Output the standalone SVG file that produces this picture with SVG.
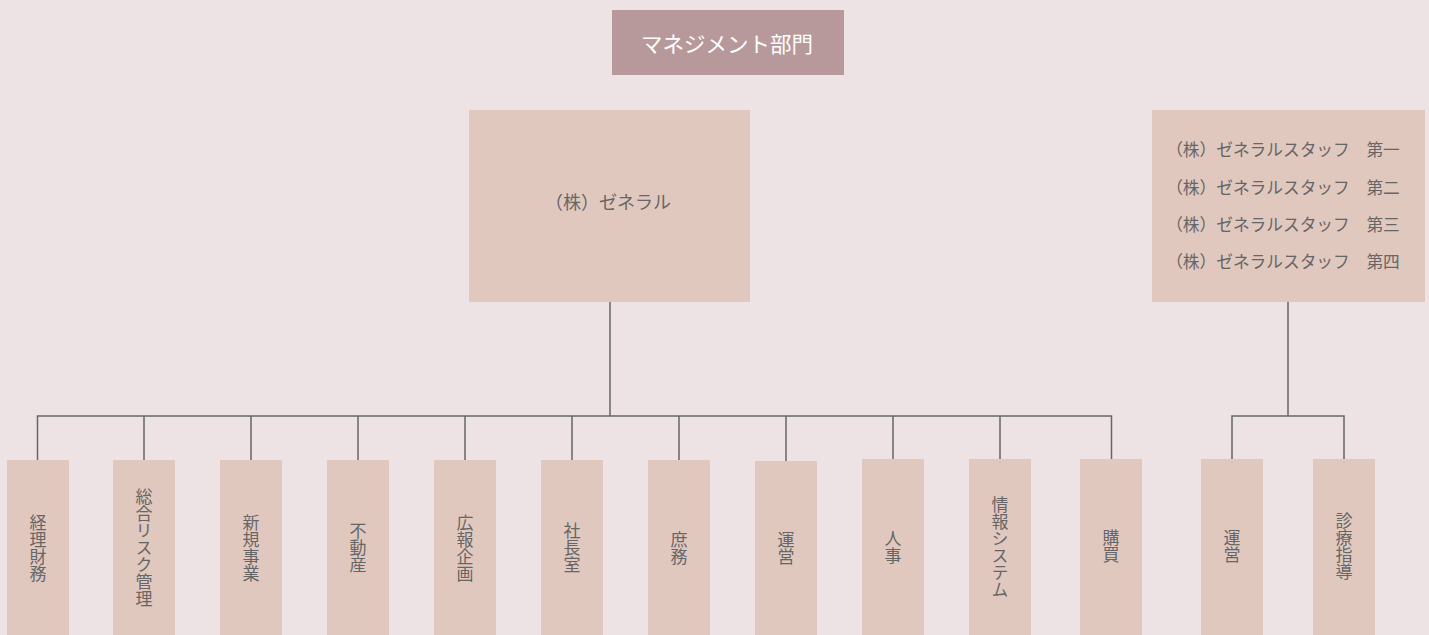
<svg xmlns="http://www.w3.org/2000/svg" width="1429" height="635" viewBox="0 0 1429 635">
<style>
.bg{fill:#eee3e4}
.box{fill:#e1c8bf}
.top{fill:#b7999b}
.t{font-family:"Noto Sans CJK JP","Noto Sans",sans-serif;fill:#666;text-anchor:middle;dominant-baseline:central}
.w{fill:#fff;font-size:21.5px}
.v{font-size:17px;writing-mode:vertical-rl;glyph-orientation-vertical:0}
.c{fill:none;stroke:#666;stroke-width:1.5}
</style>
<rect class="bg" x="0" y="0" width="1429" height="635"/>
<g id="connectors">
<path class="c" d="M610 302V416M37.5 460V416H1111.5V459M144 416V460M251 416V460M358 416V460M465 416V460M572 416V460M679 416V460M786 416V461M893 416V459M1000 416V459"/>
<path class="c" d="M1288 302V416M1232 459V416H1344V459"/>
</g>
<g id="n-mgmt"><rect class="top" x="612" y="10" width="232" height="65"/><text class="t w" x="727" y="42">マネジメント部門</text></g>
<g id="n-general"><rect class="box" x="469" y="110" width="281" height="192"/><text class="t" font-size="18" x="608" y="201">（株）ゼネラル</text></g>
<g id="n-staff"><rect class="box" x="1152" y="110" width="273" height="192"/>
<text class="t" font-size="16.7" x="1283" y="149">（株）ゼネラルスタッフ　第一</text>
<text class="t" font-size="16.7" x="1283" y="187">（株）ゼネラルスタッフ　第二</text>
<text class="t" font-size="16.7" x="1283" y="224">（株）ゼネラルスタッフ　第三</text>
<text class="t" font-size="16.7" x="1283" y="261">（株）ゼネラルスタッフ　第四</text>
</g>
<g id="n1"><rect class="box" x="7" y="460" width="62" height="175"/><text class="t v" x="38" y="548">経理財務</text></g>
<g id="n2"><rect class="box" x="113" y="460" width="62" height="175"/><text class="t v" x="144" y="548">総合リスク管理</text></g>
<g id="n3"><rect class="box" x="220" y="460" width="62" height="175"/><text class="t v" x="251" y="548">新規事業</text></g>
<g id="n4"><rect class="box" x="327" y="460" width="62" height="175"/><text class="t v" x="358" y="548">不動産</text></g>
<g id="n5"><rect class="box" x="434" y="460" width="62" height="175"/><text class="t v" x="465" y="548">広報企画</text></g>
<g id="n6"><rect class="box" x="541" y="460" width="62" height="175"/><text class="t v" x="572" y="548">社長室</text></g>
<g id="n7"><rect class="box" x="648" y="460" width="62" height="175"/><text class="t v" x="679" y="548">庶務</text></g>
<g id="n8"><rect class="box" x="755" y="461" width="62" height="174"/><text class="t v" x="786" y="548">運営</text></g>
<g id="n9"><rect class="box" x="862" y="459" width="62" height="176"/><text class="t v" x="893" y="547">人事</text></g>
<g id="n10"><rect class="box" x="969" y="459" width="62" height="176"/><text class="t v" x="1000" y="547">情報システム</text></g>
<g id="n11"><rect class="box" x="1080" y="459" width="62" height="176"/><text class="t v" x="1111" y="546">購買</text></g>
<g id="n12"><rect class="box" x="1201" y="459" width="62" height="176"/><text class="t v" x="1232" y="546">運営</text></g>
<g id="n13"><rect class="box" x="1313" y="459" width="62" height="176"/><text class="t v" x="1344" y="546">診療指導</text></g>
</svg>
